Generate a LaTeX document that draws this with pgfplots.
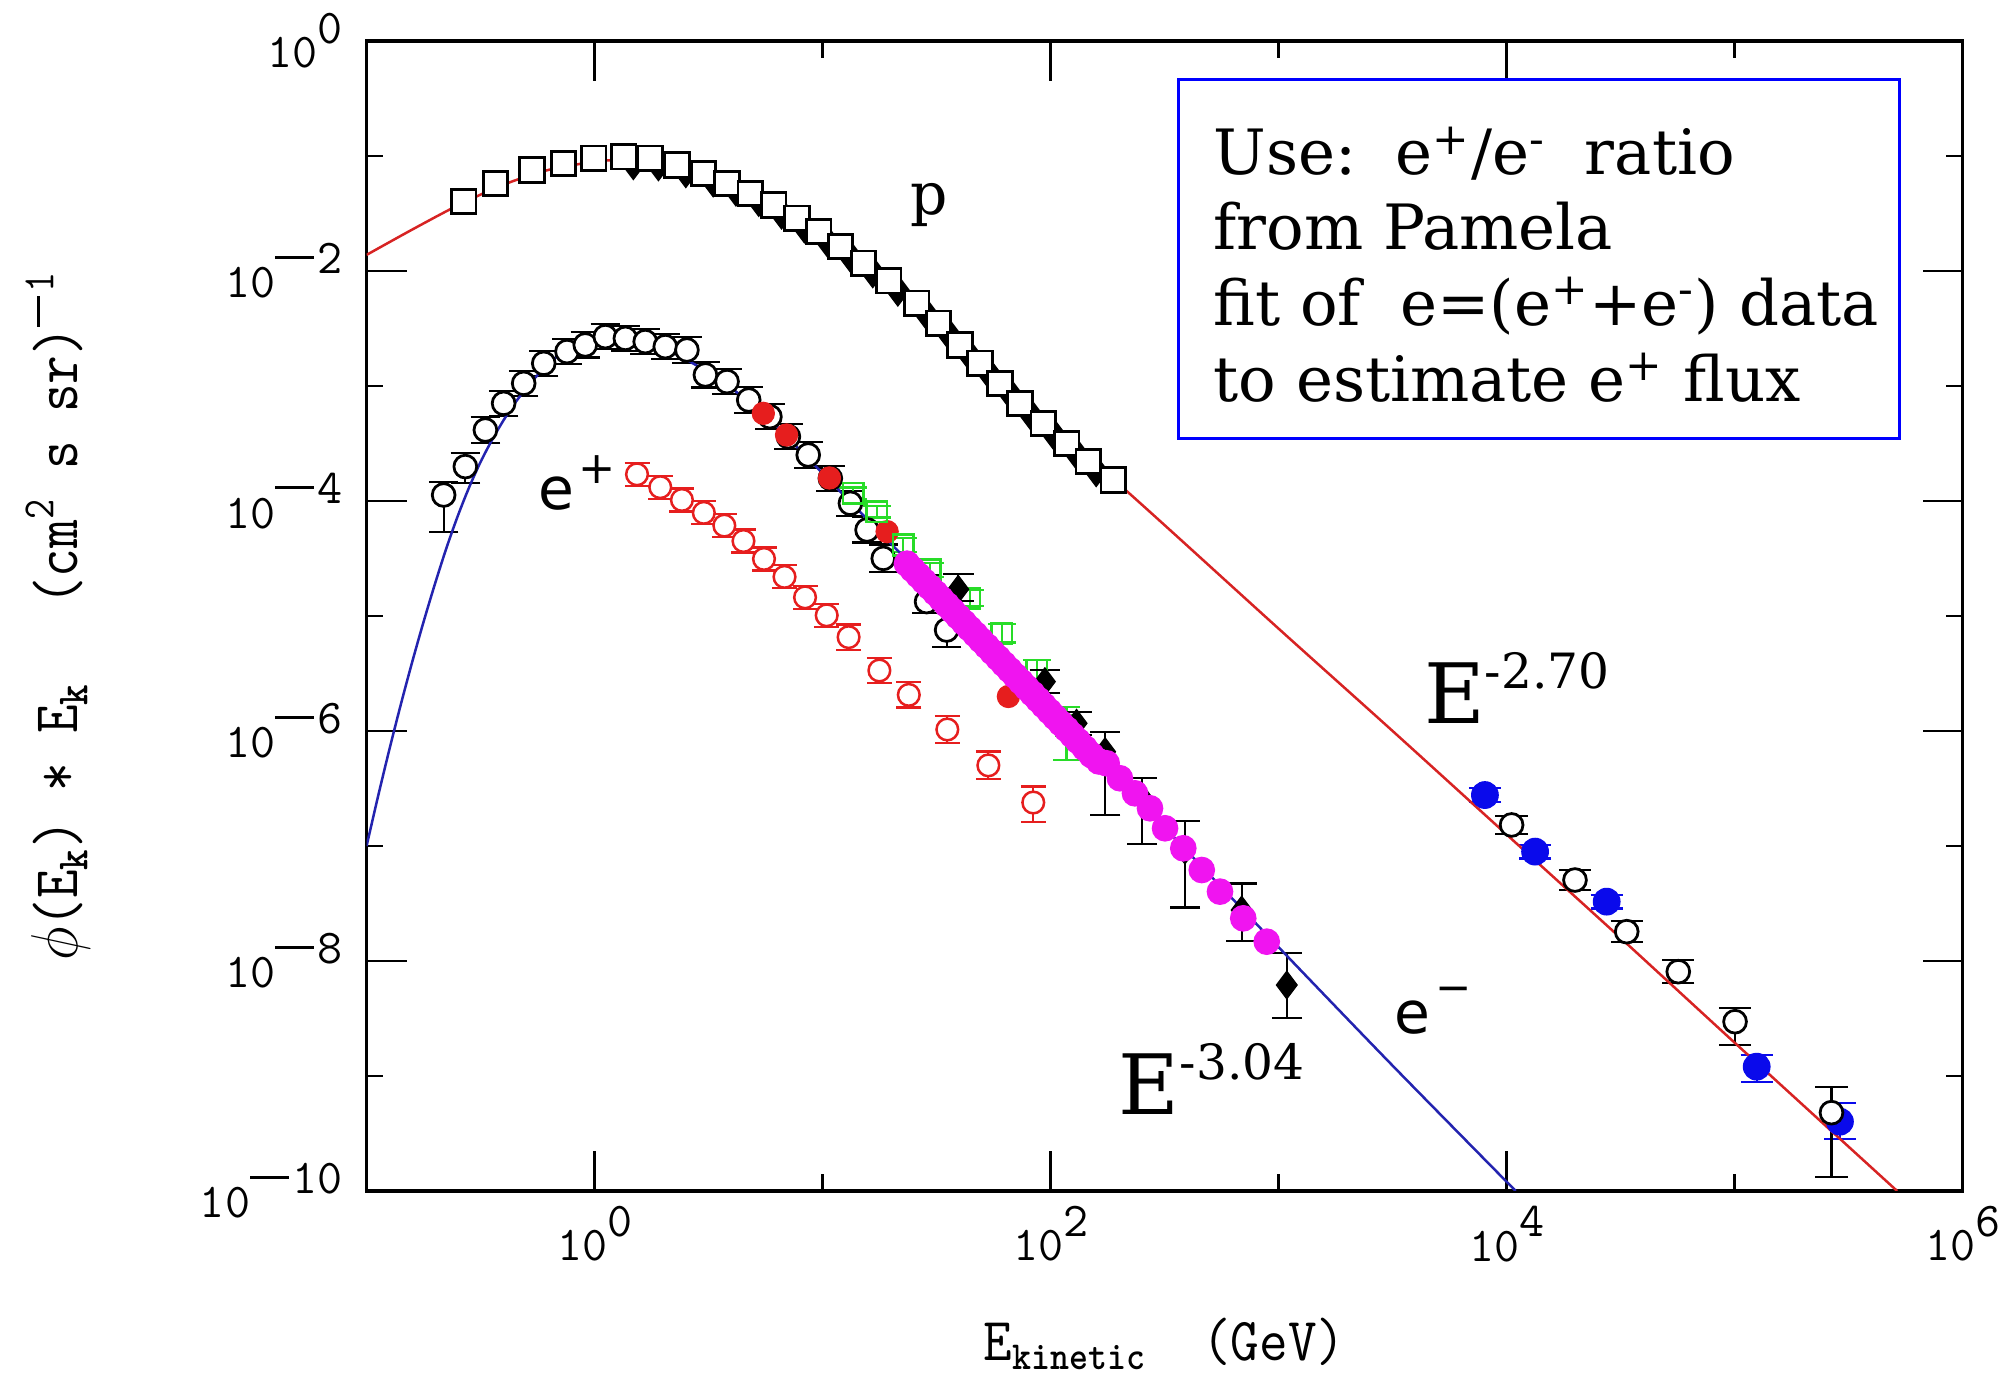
\documentclass[border=0pt]{standalone}
\usepackage{pgfplots}
\usepackage{pgfplotstable}
\pgfplotsset{compat=1.18}
\usepackage{fontspec}
\newfontfamily\dvserif{DejaVu Serif}
\newfontfamily\dvsans{DejaVu Sans}
\definecolor{fitred}{RGB}{215,35,35}
\definecolor{fitblue}{RGB}{35,35,175}
\definecolor{posred}{RGB}{230,30,30}
\definecolor{grn}{RGB}{40,220,40}
\definecolor{mag}{RGB}{240,20,240}
\definecolor{hblue}{RGB}{10,10,235}
\definecolor{boxblue}{RGB}{0,0,255}
\newcommand{\mn}{\rule[0.3em]{0.8em}{0.065em}\hspace{0.08em}}
\newcommand{\tl}[1]{10\raisebox{0.5em}{#1}}

% positrons
\pgfplotstableread{
x y ep em
0.186 -3.768 0.10 0.10
0.288 -3.880 0.10 0.10
0.383 -3.991 0.10 0.10
0.479 -4.103 0.10 0.10
0.569 -4.214 0.10 0.10
0.653 -4.348 0.10 0.10
0.743 -4.504 0.10 0.10
0.833 -4.660 0.10 0.10
0.923 -4.838 0.10 0.10
1.018 -4.994 0.10 0.10
1.114 -5.184 0.11 0.11
1.249 -5.474 0.11 0.11
1.378 -5.686 0.11 0.11
1.547 -5.987 0.12 0.12
1.727 -6.299 0.12 0.12
1.924 -6.622 0.14 0.17
}\positrons

% electrons, open circles
\pgfplotstableread{
x y ep em
-0.662 -3.948 0.116 0.319
-0.567 -3.701 0.12 0.14
-0.479 -3.383 0.11 0.11
-0.399 -3.151 0.11 0.11
-0.311 -2.977 0.11 0.11
-0.223 -2.803 0.11 0.11
-0.121 -2.701 0.11 0.11
-0.041 -2.643 0.11 0.11
0.047 -2.571 0.11 0.11
0.135 -2.586 0.11 0.11
0.222 -2.614 0.11 0.11
0.310 -2.658 0.11 0.11
0.405 -2.687 0.11 0.11
0.486 -2.904 0.11 0.11
0.581 -2.962 0.11 0.11
0.676 -3.122 0.11 0.11
0.769 -3.267 0.11 0.11
0.850 -3.441 0.11 0.11
0.937 -3.600 0.11 0.11
1.034 -3.803 0.11 0.11
1.122 -4.020 0.11 0.11
1.195 -4.252 0.11 0.11
1.266 -4.499 0.12 0.12
1.456 -4.875 0.23 0.10
1.544 -5.122 0.22 0.15
}\electrons

% electrons, green squares
\pgfplotstableread{
x y ep em
1.135 -3.933 0.05 0.05
1.237 -4.093 0.05 0.05
1.354 -4.383 0.06 0.06
1.471 -4.600 0.06 0.06
1.646 -4.846 0.07 0.07
1.786 -5.151 0.08 0.08
1.939 -5.470 0.09 0.09
2.070 -5.950 0.16 0.30
}\greensq

% electrons, black diamonds
\pgfplotstableread{
x y ep em
1.595 -4.768 0.13 0.10
1.975 -5.571 0.10 0.10
2.114 -5.933 0.10 0.10
2.239 -6.180 0.17 0.55
2.400 -6.580 0.17 0.40
2.589 -7.035 0.25 0.50
2.838 -7.557 0.23 0.27
3.036 -8.209 0.28 0.29
}\diamonds

% high energy, blue filled
\pgfplotstableread{
x y ep em
3.905 -6.557 0.06 0.06
4.125 -7.049 0.06 0.06
4.439 -7.484 0.06 0.06
5.097 -8.919 0.10 0.13
5.462 -9.397 0.16 0.15
}\heblue

% high energy, black open
\pgfplotstableread{
x y ep em
4.022 -6.817 0.08 0.08
4.300 -7.296 0.09 0.09
4.527 -7.745 0.09 0.09
4.753 -8.093 0.10 0.10
5.002 -8.528 0.12 0.20
5.425 -9.319 0.22 0.56
}\heblack

\begin{document}
\begin{tikzpicture}
\begin{axis}[
  at={(0,0)}, anchor=south west,
  scale only axis, width=574.56pt, height=414pt,
  xmin=-1, xmax=6, ymin=-10, ymax=0,
  xtick={0,2,4,6},
  xticklabels={{\tl{0}},{\tl{2}},{\tl{4}},{\tl{6}}},
  minor xtick={1,3,5},
  ytick={-10,-8,-6,-4,-2,0},
  yticklabels={{\tl{\mn 10}},{\tl{\mn 8}},{\tl{\mn 6}},{\tl{\mn 4}},{\tl{\mn 2}},{\tl{0}}},
  minor ytick={-9,-7,-5,-3,-1},
  tick align=inside, xtick pos=both, ytick pos=both,
  major tick length=14.4pt, minor tick length=6pt,
  every tick/.style={black, line width=0.8pt},
  axis line style={line width=1.1pt},
  tick label style={font=\ttfamily\fontsize{17.5}{17.5}\selectfont},
  every y tick label/.append style={xshift=-5pt},
  every x tick label/.append style={yshift=-2pt},
  xlabel={\scalebox{1}[1.1]{\ttfamily E\raisebox{-3pt}{\fontsize{13}{13}\selectfont\bfseries kinetic}\ \ (GeV)}},
  ylabel={\scalebox{1}[1.15]{\ttfamily $\phi$(E\textsubscript{\bfseries k}) * E\textsubscript{\bfseries k}\hspace{28pt}(cm\textsuperscript{2} s sr)\textsuperscript{\mn 1}}},
  xlabel style={at={(axis description cs:0.5,-0.1473)}, anchor=base, font=\fontsize{20}{20}\selectfont},
  ylabel style={at={(axis description cs:-0.1934,0.5)}, anchor=center, font=\fontsize{20}{20}\selectfont},
]

% proton, second data set (filled, behind squares)
\addplot[only marks, mark=diamond*, mark size=5.6pt, black] table {
x y
0.17 -1.07
0.28 -1.08
0.40 -1.14
0.52 -1.22
0.62 -1.30
0.72 -1.39
0.82 -1.50
0.92 -1.62
1.02 -1.74
1.12 -1.87
1.22 -2.01
1.33 -2.17
1.45 -2.36
1.55 -2.54
1.64 -2.72
1.73 -2.89
1.82 -3.06
1.91 -3.24
2.01 -3.41
2.11 -3.58
2.20 -3.74
};

% proton squares
\addplot[only marks, mark=square*, mark size=4.4pt, mark options={fill=white, draw=black, line width=1pt}] table {
x y
-0.574 -1.397
-0.435 -1.238
-0.275 -1.122
-0.136 -1.064
-0.004 -1.020
0.128 -1.006
0.244 -1.020
0.361 -1.078
0.478 -1.151
0.581 -1.238
0.683 -1.325
0.786 -1.426
0.888 -1.542
0.983 -1.658
1.078 -1.788
1.180 -1.933
1.290 -2.085
1.413 -2.281
1.508 -2.455
1.603 -2.643
1.690 -2.803
1.778 -2.977
1.866 -3.151
1.968 -3.325
2.071 -3.499
2.165 -3.658
2.275 -3.817
};

% positrons: bars, then marks
\addplot[only marks, mark=none, posred, forget plot,
  error bars/.cd, y dir=both, y explicit,
  error bar style={posred, line width=0.8pt},
  error mark options={rotate=90, posred, line width=0.8pt, mark size=4.5pt}]
  table[x=x, y=y, y error plus=ep, y error minus=em] {\positrons};
\addplot[only marks, mark=*, mark size=3.9pt, mark options={fill=white, draw=posred, line width=0.9pt}]
  table[x=x, y=y] {\positrons};

% electrons, open circles
\addplot[only marks, mark=none, black, forget plot,
  error bars/.cd, y dir=both, y explicit,
  error bar style={black, line width=0.8pt},
  error mark options={rotate=90, black, line width=0.8pt, mark size=5.3pt}]
  table[x=x, y=y, y error plus=ep, y error minus=em] {\electrons};
\addplot[only marks, mark=*, mark size=4.1pt, mark options={fill=white, draw=black, line width=1pt}]
  table[x=x, y=y] {\electrons};

% electrons, red filled
\addplot[only marks, mark=*, mark size=4pt, posred] table {
x y
0.740 -3.238
0.842 -3.426
1.030 -3.800
1.283 -4.267
1.815 -5.700
};

% electrons, green open squares
\addplot[only marks, mark=square, mark size=3.7pt, grn, mark options={line width=0.9pt},
  error bars/.cd, y dir=both, y explicit,
  error bar style={grn, line width=0.8pt},
  error mark options={rotate=90, grn, line width=0.8pt, mark size=5pt}]
  table[x=x, y=y, y error plus=ep, y error minus=em] {\greensq};

% electrons, black diamonds
\addplot[only marks, mark=none, black, forget plot,
  error bars/.cd, y dir=both, y explicit,
  error bar style={black, line width=0.8pt},
  error mark options={rotate=90, black, line width=0.8pt, mark size=5.5pt}]
  table[x=x, y=y, y error plus=ep, y error minus=em] {\diamonds};
\addplot[only marks, mark=diamond*, mark size=5pt, black] table[x=x, y=y] {\diamonds};

% electrons, magenta
\addplot[only marks, mark=*, mark size=4.6pt, mag] table {
x y
1.370 -4.545
1.395 -4.596
1.420 -4.647
1.445 -4.698
1.470 -4.749
1.495 -4.800
1.520 -4.851
1.545 -4.903
1.570 -4.954
1.595 -5.006
1.620 -5.057
1.645 -5.109
1.670 -5.160
1.695 -5.212
1.720 -5.263
1.745 -5.315
1.770 -5.366
1.795 -5.418
1.820 -5.469
1.845 -5.521
1.870 -5.572
1.895 -5.624
1.920 -5.675
1.945 -5.727
1.970 -5.778
1.995 -5.830
2.020 -5.881
2.045 -5.933
2.070 -5.984
2.095 -6.036
2.120 -6.087
2.150 -6.149
2.180 -6.211
2.212 -6.265
2.246 -6.281
2.304 -6.411
2.370 -6.542
2.436 -6.672
2.502 -6.846
2.582 -7.020
2.663 -7.209
2.743 -7.397
2.845 -7.629
2.948 -7.832
};

% high-energy, blue filled
\addplot[only marks, mark=none, hblue, forget plot,
  error bars/.cd, y dir=both, y explicit,
  error bar style={hblue, line width=0.8pt},
  error mark options={rotate=90, hblue, line width=0.8pt, mark size=5.8pt}]
  table[x=x, y=y, y error plus=ep, y error minus=em] {\heblue};
\addplot[only marks, mark=*, mark size=4.8pt, hblue] table[x=x, y=y] {\heblue};

% high-energy, black open
\addplot[only marks, mark=none, black, forget plot,
  error bars/.cd, y dir=both, y explicit,
  error bar style={black, line width=0.8pt},
  error mark options={rotate=90, black, line width=0.8pt, mark size=5.8pt}]
  table[x=x, y=y, y error plus=ep, y error minus=em] {\heblack};
\addplot[only marks, mark=*, mark size=4.1pt, mark options={fill=white, draw=black, line width=1pt}]
  table[x=x, y=y] {\heblack};

% proton fit
\addplot[fitred, line width=0.9pt, smooth, no marks] table {
x y
-1.0 -1.86
-0.8 -1.64
-0.6 -1.43
-0.4 -1.25
-0.2 -1.12
0.0 -1.05
0.1 -1.035
0.2 -1.045
0.3 -1.07
0.4 -1.11
0.5 -1.17
0.6 -1.24
0.7 -1.33
0.8 -1.43
0.9 -1.545
1.0 -1.67
1.2 -1.95
1.4 -2.26
1.6 -2.62
1.8 -2.98
2.0 -3.33
2.275 -3.81
2.5 -4.21
3.0 -5.11
3.5 -6.00
4.0 -6.90
4.5 -7.80
5.0 -8.71
5.713 -10.0
};

% electron fit
\addplot[fitblue, line width=0.9pt, smooth, no marks] table {
x y
-1.00 -7.00
-0.95 -6.57
-0.90 -6.16
-0.85 -5.77
-0.80 -5.40
-0.75 -5.05
-0.70 -4.72
-0.65 -4.41
-0.60 -4.13
-0.55 -3.88
-0.50 -3.66
-0.45 -3.47
-0.40 -3.30
-0.35 -3.15
-0.30 -3.02
-0.25 -2.905
-0.20 -2.805
-0.15 -2.72
-0.10 -2.655
-0.05 -2.605
0.00 -2.57
0.054 -2.552
0.10 -2.55
0.15 -2.56
0.20 -2.585
0.25 -2.62
0.30 -2.665
0.35 -2.715
0.40 -2.77
0.464 -2.84
0.55 -2.95
0.654 -3.10
0.75 -3.26
0.813 -3.38
1.0 -3.76
1.25 -4.27
1.5 -4.78
2.0 -5.81
2.5 -6.84
3.0 -7.88
3.5 -8.91
4.04 -10.0
};

% annotations
\node[anchor=base west, inner sep=0pt, font=\dvserif\fontsize{21}{21}\selectfont] at (axis cs:1.383,-1.513) {p};
\node[anchor=base west, inner sep=0pt, font=\dvsans\fontsize{21}{21}\selectfont] at (axis cs:-0.250,-4.078) {e\hspace{1.5pt}\raisebox{9.7pt}{\fontsize{16}{16}\selectfont +}};
\node[anchor=base west, inner sep=0pt, font=\dvsans\fontsize{21}{21}\selectfont] at (axis cs:3.505,-8.630) {e\hspace{2pt}\raisebox{11pt}{\fontsize{15.6}{15.6}\selectfont −}};
\node[anchor=base west, inner sep=0pt, font=\dvserif\fontsize{30}{30}\selectfont] at (axis cs:2.297,-9.339) {E\raisebox{12.6pt}{\fontsize{17.5}{17.5}\selectfont -3.04}};
\node[anchor=base west, inner sep=0pt, font=\dvserif\fontsize{30}{30}\selectfont] at (axis cs:3.636,-5.939) {E\raisebox{12.6pt}{\fontsize{17.5}{17.5}\selectfont -2.70}};

\draw[boxblue, line width=1.1pt] (axis cs:2.562,-0.339) rectangle (axis cs:5.723,-3.457);
\node[anchor=base west, inner sep=0pt, font=\dvserif\fontsize{22.5}{22.5}\selectfont] at (axis cs:2.712,-1.165) {Use:\ \ e\textsuperscript{+}/e\textsuperscript{-}\ \ ratio};
\node[anchor=base west, inner sep=0pt, font=\dvserif\fontsize{22.5}{22.5}\selectfont] at (axis cs:2.712,-1.817) {from Pamela};
\node[anchor=base west, inner sep=0pt, font=\dvserif\fontsize{22.5}{22.5}\selectfont] at (axis cs:2.712,-2.470) {fit of\ \ e=(e\textsuperscript{+}+e\textsuperscript{-}) data};
\node[anchor=base west, inner sep=0pt, font=\dvserif\fontsize{22.5}{22.5}\selectfont] at (axis cs:2.712,-3.136) {to estimate e\textsuperscript{+} flux};
\end{axis}
\pgfresetboundingbox
\path[use as bounding box] (-131.98pt,-68.04pt) rectangle (591.62pt,428.76pt);
\end{tikzpicture}
\end{document}
